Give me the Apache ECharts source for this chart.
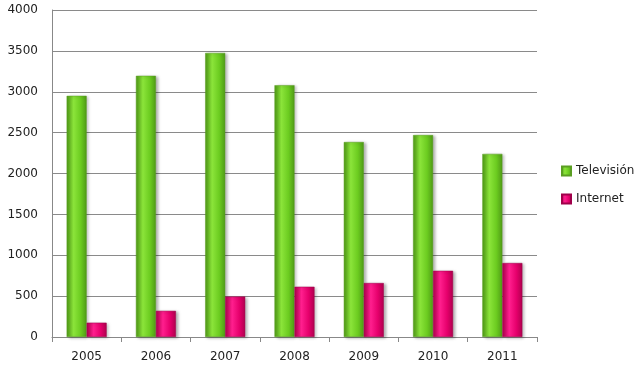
<!DOCTYPE html>
<html><head><meta charset="utf-8">
<script src="https://cdn.jsdelivr.net/npm/echarts@6/dist/echarts.min.js"></script>
<style>html,body{margin:0;padding:0;background:#fff}#c{width:640px;height:370px}</style>
</head><body><div id="c"></div>
<script>
var categories = ['2005','2006','2007','2008','2009','2010','2011'];
var television = [2950, 3195, 3475, 3080, 2385, 2470, 2240];
var internet = [175, 320, 495, 615, 660, 810, 905];
var yTicks = [0, 500, 1000, 1500, 2000, 2500, 3000, 3500, 4000];

function grad(dark, mid, light) {
  return new echarts.graphic.LinearGradient(0, 0, 1, 0, [
    {offset: 0, color: dark}, {offset: 0.35, color: light}, {offset: 0.7, color: mid}, {offset: 1, color: dark}
  ]);
}
var chart = echarts.init(document.getElementById('c'));
chart.setOption({
  animation: false,
  textStyle: {fontFamily: 'DejaVu Sans'},
  grid: {left: 52, right: 103, top: 10, bottom: 33, containLabel: false},
  legend: {
    orient: 'vertical', left: 556, top: 160, itemWidth: 9, itemHeight: 9, itemGap: 16, icon: 'rect',
    textStyle: {fontSize: 12, color: '#222', fontFamily: 'DejaVu Sans'},
    data: ['Televisión', 'Internet']
  },
  xAxis: {
    type: 'category', data: categories,
    axisLine: {lineStyle: {color: '#888'}},
    axisTick: {show: true, length: 5, lineStyle: {color: '#888'}},
    axisLabel: {color: '#222', fontSize: 12, margin: 14}
  },
  yAxis: {
    type: 'value', min: yTicks[0], max: yTicks[yTicks.length - 1], interval: 500,
    axisLine: {show: true, lineStyle: {color: '#888'}},
    axisTick: {show: false},
    splitLine: {lineStyle: {color: '#8a8a8a'}},
    axisLabel: {color: '#222', fontSize: 12, margin: 14, formatter: function (v) { return String(v); }}
  },
  series: [
    {name: 'Televisión', type: 'bar', data: television, barWidth: 20, barGap: '0%',
     itemStyle: {color: grad('#4f9a16', '#6ccc20', '#8be43a'), borderColor: '#5a9e22', borderWidth: 0.5,
       shadowBlur: 3, shadowColor: 'rgba(0,0,0,0.3)', shadowOffsetX: 2, shadowOffsetY: 1}},
    {name: 'Internet', type: 'bar', data: internet, barWidth: 20,
     itemStyle: {color: grad('#b0004e', '#e6006c', '#ff1f8e'), borderColor: '#a0004a', borderWidth: 0.5,
       shadowBlur: 3, shadowColor: 'rgba(0,0,0,0.3)', shadowOffsetX: 2, shadowOffsetY: 1}}
  ]
});
</script></body></html>
